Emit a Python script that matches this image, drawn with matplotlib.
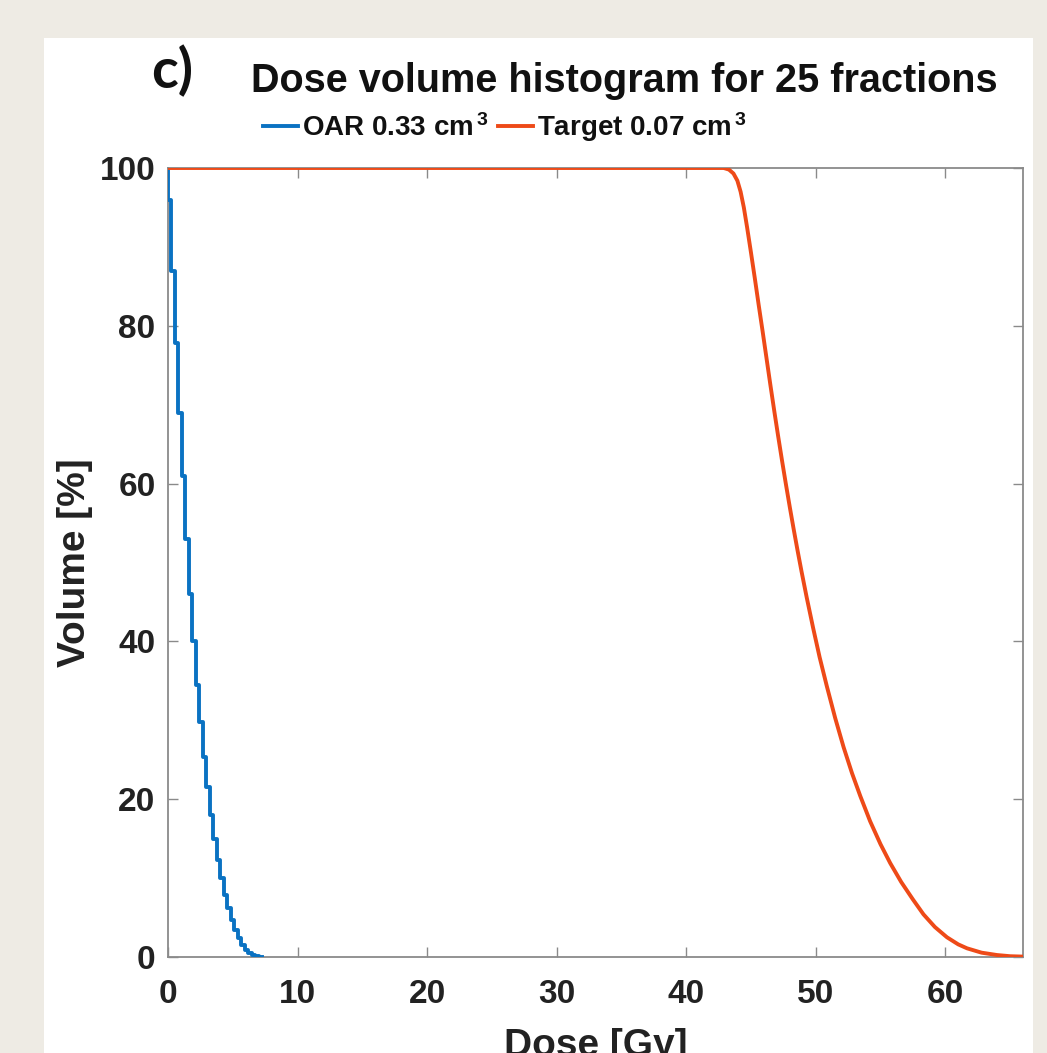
import matplotlib
matplotlib.use("Agg")
import matplotlib.pyplot as plt
from matplotlib.patches import Rectangle

# ---------------- data ----------------
oar_dose = [0.0, 0.0, 0.27, 0.54, 0.81, 1.08, 1.35, 1.62, 1.89, 2.16, 2.43, 2.70,
            2.97, 3.24, 3.51, 3.78, 4.05, 4.32, 4.59, 4.86, 5.13, 5.40, 5.67,
            5.94, 6.21, 6.48, 6.75, 7.02, 7.29]
oar_vol = [100.0, 95.9, 87.0, 77.8, 69.0, 61.0, 53.0, 46.0, 40.0, 34.5, 29.8, 25.3,
           21.5, 18.0, 15.0, 12.3, 10.0, 7.9, 6.2, 4.7, 3.4, 2.4, 1.5,
           0.9, 0.5, 0.2, 0.1, 0.03, 0.0]

target_dose = [0.0, 42.9, 43.3, 43.65, 43.95, 44.2, 44.45, 44.7, 45.0, 45.3,
               45.6, 45.9, 46.2, 46.5, 46.8, 47.1, 47.4, 47.7, 48.0, 48.3,
               48.6, 48.9, 49.3, 49.8, 50.3, 50.86, 51.5, 52.15, 52.8, 53.44,
               54.2, 55.0, 55.75, 56.6, 57.5, 58.32, 59.2, 60.13, 61.0, 61.68,
               62.8, 63.99, 65.0, 66.0]
target_vol = [100.0, 100.0, 99.8, 99.3, 98.4, 97.0, 95.0, 92.5, 89.3, 86.0,
              82.6, 79.3, 75.9, 72.5, 69.2, 66.0, 62.9, 59.9, 57.0, 54.2,
              51.5, 48.9, 45.6, 41.7, 38.0, 34.3, 30.3, 26.6, 23.3, 20.4,
              17.2, 14.3, 11.9, 9.5, 7.3, 5.4, 3.8, 2.5, 1.6, 1.1,
              0.55, 0.25, 0.1, 0.05]

x_ticks = [0, 10, 20, 30, 40, 50, 60]
y_ticks = [0, 20, 40, 60, 80, 100]

title_text = "Dose volume histogram for 25 fractions"
panel_label = "c)"
oar_label = r"OAR 0.33 cm$^{\,3}$"
target_label = r"Target 0.07 cm$^{\,3}$"

# ---------------- style ----------------
plt.rcParams['font.family'] = ['Liberation Sans', 'DejaVu Sans']
plt.rcParams['font.weight'] = 'bold'
plt.rcParams['mathtext.fontset'] = 'custom'
plt.rcParams['mathtext.rm'] = 'Liberation Sans:bold'
plt.rcParams['mathtext.it'] = 'Liberation Sans:bold'
plt.rcParams['mathtext.bf'] = 'Liberation Sans:bold'

W, H = 1047, 1053
fig = plt.figure(figsize=(W / 100, H / 100), dpi=100)
fig.patch.set_facecolor('#EEEBE4')
fig.patches.append(Rectangle((44 / W, 0), (1033 - 44) / W, (H - 38) / H,
                             transform=fig.transFigure, facecolor='white',
                             edgecolor='none', zorder=-10))

ax = fig.add_axes([168 / W, 1 - 957 / H, (1023 - 168) / W, (957 - 168) / H])
ax.set_zorder(1)
ax.set_facecolor('white')

blue = '#0A72C2'
red = '#EE4A18'
ax.plot(oar_dose, oar_vol, color=blue, lw=2.8, drawstyle='steps-post',
        label=oar_label, solid_joinstyle='round', zorder=3)
ax.plot(target_dose, target_vol, color=red, lw=2.8, label=target_label,
        solid_joinstyle='round', zorder=4)

ax.set_xlim(0, 66)
ax.set_ylim(0, 100)
ax.set_xticks(x_ticks)
ax.set_yticks(y_ticks)

for s in ax.spines.values():
    s.set_color('#8a8a8a')
    s.set_linewidth(1.3)

ax.tick_params(axis='both', direction='in', length=7, width=1.0,
               color='#8a8a8a', labelcolor='#222222', labelsize=24,
               top=True, right=True)
ax.tick_params(axis='x', pad=16)
ax.tick_params(axis='y', pad=9)
for lab in ax.get_xticklabels() + ax.get_yticklabels():
    lab.set_fontweight('bold')

ax.set_xlabel("Dose [Gy]", fontsize=28, fontweight='bold', color='#222222')
ax.set_ylabel("Volume [%]", fontsize=28, fontweight='bold', color='#222222')
ax.xaxis.set_label_coords(0.5, -0.090)
ax.yaxis.set_label_coords(-0.088, 0.5)

fig.text(624 / W, 1 - 92 / H, title_text, ha='center', va='baseline',
         fontsize=28.5, fontweight='bold', color='#111111')
fig.text(151 / W, 1 - 88 / H, panel_label, ha='left', va='baseline',
         fontsize=40, fontweight='bold', color='#111111',
         family=['Lato', 'Liberation Sans'])

leg = ax.legend(loc='center', bbox_to_anchor=(505 / W, 1 - 127 / H),
                bbox_transform=fig.transFigure, ncol=2, frameon=False,
                fontsize=20, handlelength=1.25, handletextpad=0.15,
                columnspacing=0.35, borderpad=0, borderaxespad=0)
for t in leg.get_texts():
    t.set_fontweight('bold')
    t.set_color('#111111')

fig.savefig('out.png', dpi=100, facecolor=fig.get_facecolor())
